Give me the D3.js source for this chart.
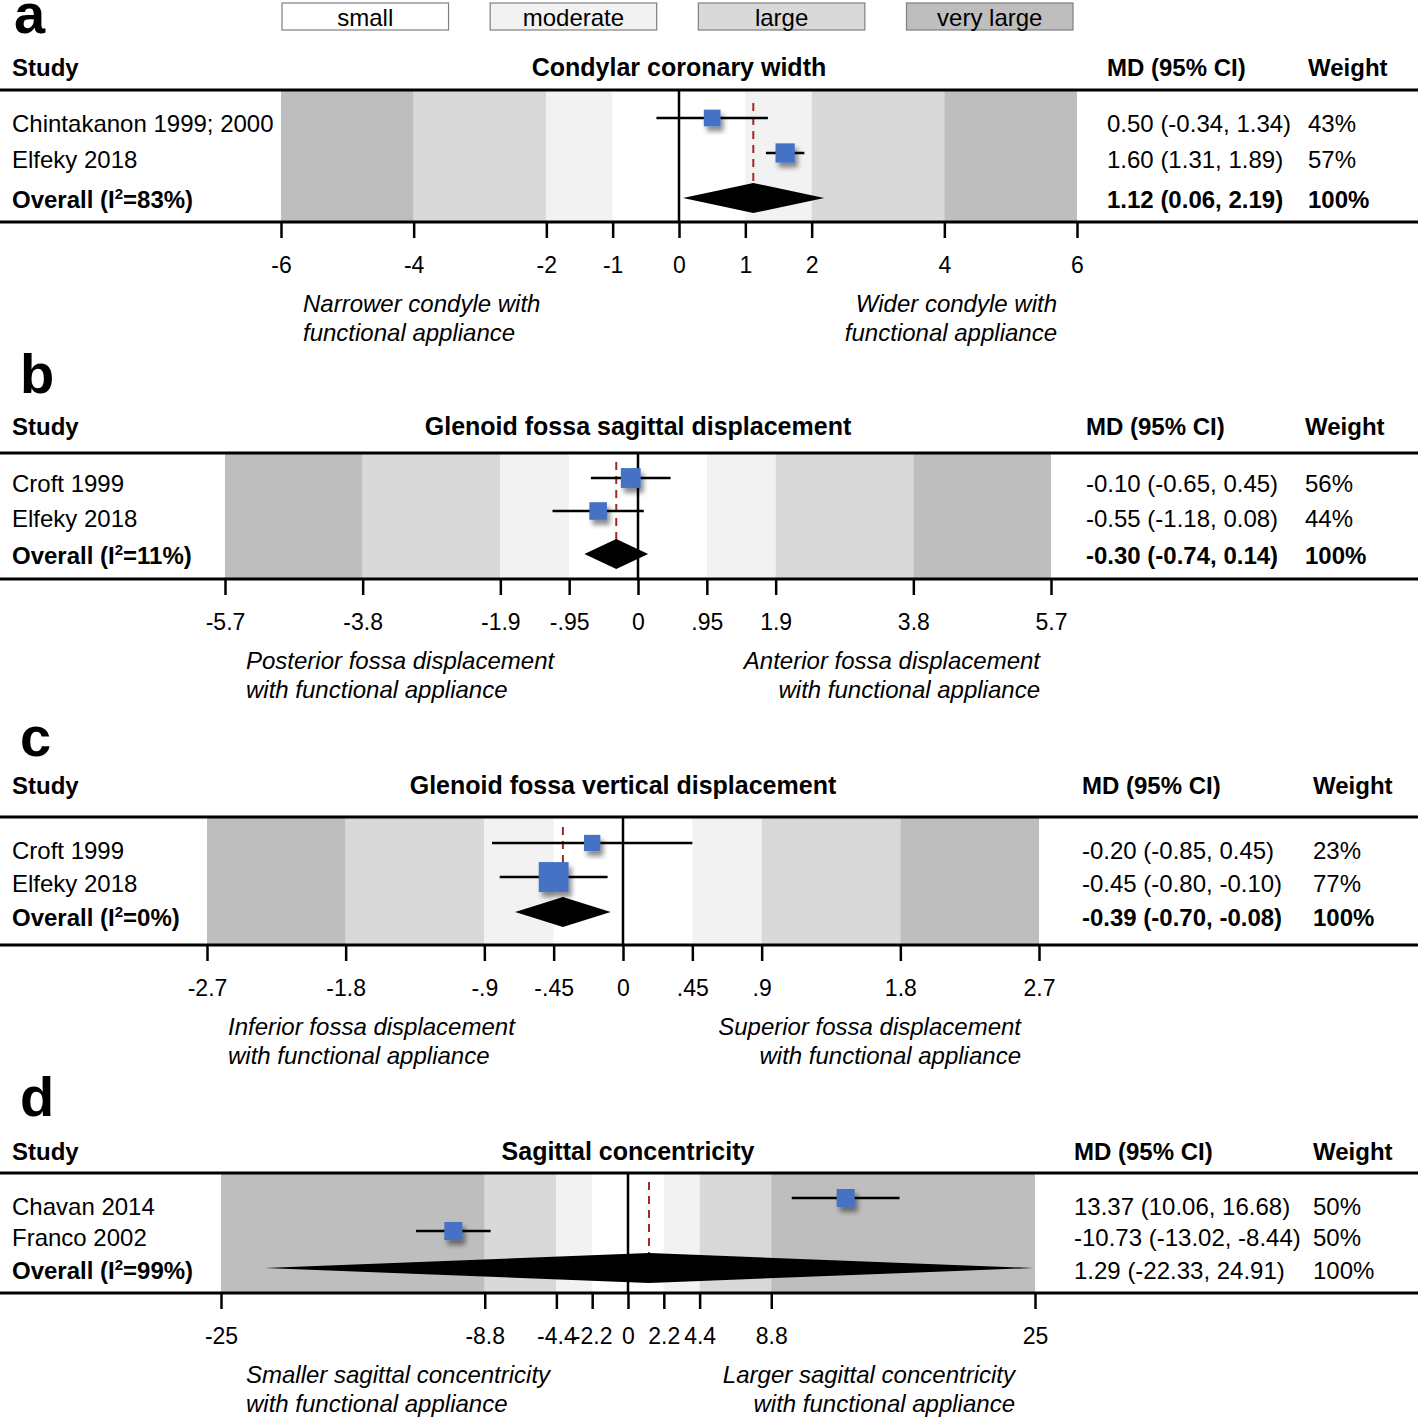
<!DOCTYPE html>
<meta charset="utf-8">
<title>Forest plots</title>
<style>
  body { margin: 0; background: #fff; }
  text { font-family: "Liberation Sans", Arial, sans-serif; font-size: 24px; fill: #000; }
  .bold { font-weight: bold; }
  .ital { font-style: italic; }
  .title { font-size: 25px; }
  .tick line { stroke: #000; stroke-width: 2.5px; }
  .tick text { font-size: 23px; }
</style>
<body>
<script src="https://cdn.jsdelivr.net/npm/d3@7"></script>
<script>

// ---- data ----
var letters = ['a', 'b', 'c', 'd'];
var titles = ['Condylar coronary width', 'Glenoid fossa sagittal displacement',
  'Glenoid fossa vertical displacement', 'Sagittal concentricity'];
var studies = [['Chintakanon 1999; 2000', 'Elfeky 2018'], ['Croft 1999', 'Elfeky 2018'],
  ['Croft 1999', 'Elfeky 2018'], ['Chavan 2014', 'Franco 2002']];
var md = [[0.50, 1.60], [-0.10, -0.55], [-0.20, -0.45], [13.37, -10.73]];
var ciLo = [[-0.34, 1.31], [-0.65, -1.18], [-0.85, -0.80], [10.06, -13.02]];
var ciHi = [[1.34, 1.89], [0.45, 0.08], [0.45, -0.10], [16.68, -8.44]];
var weights = [[43, 57], [56, 44], [23, 77], [50, 50]];
var overallMd = [1.12, -0.30, -0.39, 1.29];
var overallLo = [0.06, -0.74, -0.70, -22.33];
var overallHi = [2.19, 0.14, -0.08, 24.91];
var i2 = [83, 11, 0, 99];
// effect size thresholds: small, moderate, large, very large (axis end)
var thresholds = [[1, 2, 4, 6], [0.95, 1.9, 3.8, 5.7], [0.45, 0.9, 1.8, 2.7], [2.2, 4.4, 8.8, 25]];
var tickLabels = [
  ['-6', '-4', '-2', '-1', '0', '1', '2', '4', '6'],
  ['-5.7', '-3.8', '-1.9', '-.95', '0', '.95', '1.9', '3.8', '5.7'],
  ['-2.7', '-1.8', '-.9', '-.45', '0', '.45', '.9', '1.8', '2.7'],
  ['-25', '-8.8', '-4.4', '-2.2', '0', '2.2', '4.4', '8.8', '25']];
var leftLabels = [['Narrower condyle with', 'functional appliance'],
  ['Posterior fossa displacement', 'with functional appliance'],
  ['Inferior fossa displacement', 'with functional appliance'],
  ['Smaller sagittal concentricity', 'with functional appliance']];
var rightLabels = [['Wider condyle with', 'functional appliance'],
  ['Anterior fossa displacement', 'with functional appliance'],
  ['Superior fossa displacement', 'with functional appliance'],
  ['Larger sagittal concentricity', 'with functional appliance']];
var legendNames = ['small', 'moderate', 'large', 'very large'];

// ---- layout ----
var bandColors = ['#ffffff', '#f2f2f2', '#d9d9d9', '#bebebe'];
var layout = [
  {x0: 281, x1: 1077, header: 76, top: 90, marks: [118, 153, 198], texts: [132, 168, 208], bottom: 222,
    mdX: 1107, wX: 1308, lx: 303, rx: 1057, letterX: 14, letterY: 33, sq: 2.55, dTop: 103, boldOverall: true},
  {x0: 225, x1: 1051, header: 435, top: 453, marks: [478, 511, 554], texts: [492, 527, 564], bottom: 579,
    mdX: 1086, wX: 1305, lx: 246, rx: 1040, letterX: 20, letterY: 393, sq: 2.65, dTop: 462, boldOverall: true},
  {x0: 207, x1: 1039, header: 794, top: 817, marks: [843, 877, 912], texts: [859, 892, 926], bottom: 945,
    mdX: 1082, wX: 1313, lx: 228, rx: 1021, letterX: 20, letterY: 756, sq: 3.4, dTop: 827, boldOverall: true},
  {x0: 221, x1: 1035, header: 1160, top: 1173, marks: [1198, 1231, 1268], texts: [1215, 1246, 1279], bottom: 1293,
    mdX: 1074, wX: 1313, lx: 246, rx: 1015, letterX: 20, letterY: 1116, sq: 2.55, dTop: 1182, boldOverall: false}
];

var svg = d3.select('body').append('svg').attr('width', 1418).attr('height', 1420);

svg.append('defs').append('filter').attr('id', 'shadow')
  .attr('x', '-50%').attr('y', '-50%').attr('width', '200%').attr('height', '200%')
  .append('feDropShadow').attr('dx', 3).attr('dy', 5).attr('stdDeviation', 2.5)
  .attr('flood-color', '#000').attr('flood-opacity', 0.45);

// legend
var legendX = d3.scaleBand().domain(legendNames).range([282, 1073]).paddingInner(0.2).paddingOuter(0);
var leg = svg.selectAll('g.legend').data(legendNames).enter().append('g').attr('class', 'legend');
leg.append('rect')
  .attr('x', function(d) { return legendX(d); }).attr('y', 3)
  .attr('width', legendX.bandwidth()).attr('height', 27)
  .attr('fill', function(d, i) { return bandColors[i]; })
  .attr('stroke', '#7f7f7f').attr('stroke-width', 1.2);
leg.append('text')
  .attr('x', function(d) { return legendX(d) + legendX.bandwidth() / 2; }).attr('y', 26)
  .attr('text-anchor', 'middle').text(function(d) { return d; });

var f2 = d3.formatLocale({decimal: '.', thousands: ',', grouping: [3], currency: ['', ''], minus: '-'})
  .format('.2f');

letters.forEach(function(letter, p) {
  var L = layout[p];
  var t = thresholds[p];
  var x = d3.scaleLinear().domain([-t[3], t[3]]).range([L.x0, L.x1]);
  var g = svg.append('g');

  // panel letter
  g.append('text').attr('class', 'bold').attr('x', L.letterX).attr('y', L.letterY)
    .style('font-size', '56px').text(letter);

  // header
  g.append('text').attr('class', 'bold').attr('x', 12).attr('y', L.header).text('Study');
  g.append('text').attr('class', 'bold title').attr('x', x(0)).attr('y', L.header)
    .attr('text-anchor', 'middle').text(titles[p]);
  g.append('text').attr('class', 'bold').attr('x', L.mdX).attr('y', L.header).text('MD (95% CI)');
  g.append('text').attr('class', 'bold').attr('x', L.wX).attr('y', L.header).text('Weight');

  // effect size bands
  var edges = [-t[3], -t[2], -t[1], -t[0], t[0], t[1], t[2], t[3]];
  var bandIdx = [3, 2, 1, 0, 1, 2, 3];
  g.selectAll('rect.band').data(bandIdx).enter().append('rect')
    .attr('x', function(d, i) { return x(edges[i]); })
    .attr('width', function(d, i) { return x(edges[i + 1]) - x(edges[i]); })
    .attr('y', L.top + 1).attr('height', L.bottom - L.top - 2)
    .attr('fill', function(d) { return bandColors[d]; });

  // rules
  [L.top, L.bottom].forEach(function(yy) {
    g.append('line').attr('x1', 0).attr('x2', 1418).attr('y1', yy).attr('y2', yy)
      .attr('stroke', '#000').attr('stroke-width', 3);
  });

  // zero line
  g.append('line').attr('x1', x(0)).attr('x2', x(0)).attr('y1', L.top).attr('y2', L.bottom)
    .attr('stroke', '#000').attr('stroke-width', 2.5);

  // overall dashed line
  g.append('line').attr('x1', x(overallMd[p])).attr('x2', x(overallMd[p]))
    .attr('y1', L.dTop).attr('y2', L.marks[2])
    .attr('stroke', '#a3262a').attr('stroke-width', 2).attr('stroke-dasharray', '8,6');

  // study rows
  studies[p].forEach(function(name, i) {
    var yy = L.marks[i];
    g.append('line').attr('x1', x(ciLo[p][i])).attr('x2', x(ciHi[p][i]))
      .attr('y1', yy).attr('y2', yy).attr('stroke', '#000').attr('stroke-width', 2.5);
    var s = L.sq * Math.sqrt(weights[p][i]);
    g.append('rect').attr('x', x(md[p][i]) - s / 2).attr('y', yy - s / 2)
      .attr('width', s).attr('height', s).attr('fill', '#4472c4')
      .attr('filter', 'url(#shadow)');
    g.append('text').attr('x', 12).attr('y', L.texts[i]).text(name);
    g.append('text').attr('x', L.mdX).attr('y', L.texts[i])
      .text(f2(md[p][i]) + ' (' + f2(ciLo[p][i]) + ', ' + f2(ciHi[p][i]) + ')');
    g.append('text').attr('x', L.wX).attr('y', L.texts[i]).text(weights[p][i] + '%');
  });

  // overall diamond
  var yd = L.marks[2];
  var hh = 15;
  g.append('path')
    .attr('d', 'M' + x(overallLo[p]) + ',' + yd + 'L' + x(overallMd[p]) + ',' + (yd - hh) +
      'L' + x(overallHi[p]) + ',' + yd + 'L' + x(overallMd[p]) + ',' + (yd + hh) + 'Z')
    .attr('fill', '#000');

  var ov = g.append('text').attr('class', 'bold').attr('x', 12).attr('y', L.texts[2]);
  ov.append('tspan').text('Overall (I');
  ov.append('tspan').attr('dy', -9).style('font-size', '15px').text('2');
  ov.append('tspan').attr('dy', 9).text('=' + i2[p] + '%)');
  g.append('text').attr('class', L.boldOverall ? 'bold' : null).attr('x', L.mdX).attr('y', L.texts[2])
    .text(f2(overallMd[p]) + ' (' + f2(overallLo[p]) + ', ' + f2(overallHi[p]) + ')');
  g.append('text').attr('class', L.boldOverall ? 'bold' : null).attr('x', L.wX).attr('y', L.texts[2])
    .text('100%');

  // axis
  var tv = [-t[3], -t[2], -t[1], -t[0], 0, t[0], t[1], t[2], t[3]];
  var axis = d3.axisBottom(x).tickValues(tv)
    .tickFormat(function(d, i) { return tickLabels[p][i]; })
    .tickSize(16).tickPadding(19);
  var ag = g.append('g').attr('transform', 'translate(0,' + L.bottom + ')').call(axis);
  ag.select('.domain').remove();
  ag.selectAll('text').attr('font-size', null).attr('font-family', null);

  // direction labels
  leftLabels[p].forEach(function(s, i) {
    g.append('text').attr('class', 'ital').attr('x', L.lx).attr('y', L.bottom + 90 + i * 29).text(s);
  });
  rightLabels[p].forEach(function(s, i) {
    g.append('text').attr('class', 'ital').attr('x', L.rx).attr('y', L.bottom + 90 + i * 29)
      .attr('text-anchor', 'end').text(s);
  });
});

</script>
</body>
